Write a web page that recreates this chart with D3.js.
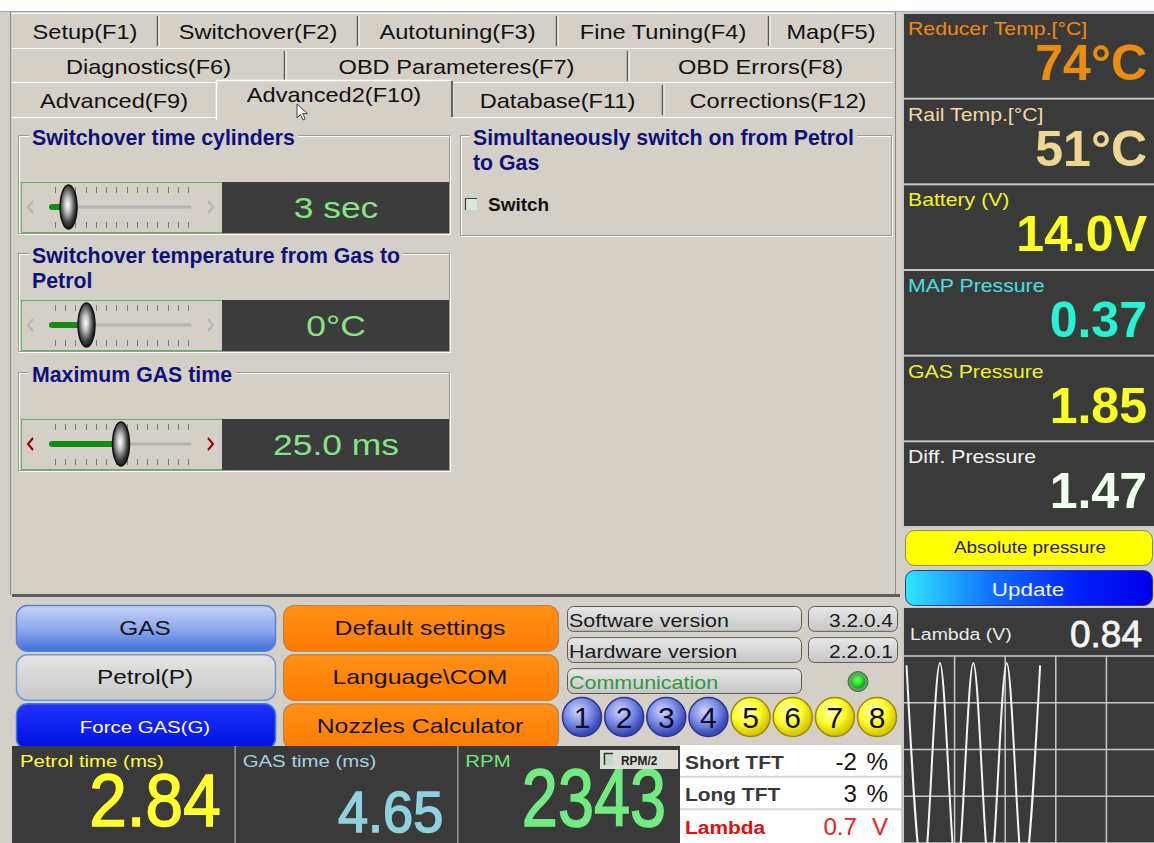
<!DOCTYPE html>
<html>
<head>
<meta charset="utf-8">
<script src="https://cdn.jsdelivr.net/npm/d3@7"></script>
<style>
  body { margin: 0; background: #d4d0c8; overflow: hidden; }
  svg { display: block; font-family: "Liberation Sans", Arial, sans-serif; }
</style>
</head>
<body>
<svg id="ui"></svg>
<script>
/*global d3*/

var tabRows = [
  ["Setup(F1)", "Switchover(F2)", "Autotuning(F3)", "Fine Tuning(F4)", "Map(F5)"],
  ["Diagnostics(F6)", "OBD Parameteres(F7)", "OBD Errors(F8)"],
  ["Advanced(F9)", "Advanced2(F10)", "Database(F11)", "Corrections(F12)"]
];
var activeTab = "Advanced2(F10)";

var sliderTitles = [["Switchover time cylinders"], ["Switchover temperature from Gas to", "Petrol"], ["Maximum GAS time"]];
var sliderValues = [3, 0, 25.0];
var sliderDomains = [[0, 25], [-20, 60], [0, 50]];
var sliderText = ["3 sec", "0°C", "25.0 ms"];

var switchTitle = ["Simultaneously switch on from Petrol", "to Gas"];
var switchLabel = "Switch";

var sensorNames = ["Reducer Temp.[°C]", "Rail Temp.[°C]", "Battery (V)", "MAP Pressure", "GAS Pressure", "Diff. Pressure"];
var sensorValues = ["74°C", "51°C", "14.0V", "0.37", "1.85", "1.47"];

var leftButtons = ["GAS", "Petrol(P)", "Force GAS(G)"];
var midButtons = ["Default settings", "Language\\COM", "Nozzles Calculator"];

var versionNames = ["Software version", "Hardware version", "Communication"];
var versionValues = ["3.2.0.4", "2.2.0.1", ""];

var cylinders = [1, 2, 3, 4, 5, 6, 7, 8];
var cylinderBank = ["A", "A", "A", "A", "B", "B", "B", "B"];

var readoutNames = ["Petrol time (ms)", "GAS time (ms)", "RPM"];
var readoutValues = ["2.84", "4.65", "2343"];

var tftNames = ["Short TFT", "Long TFT", "Lambda"];
var tftValues = ["-2", "3", "0.7"];
var tftUnits = ["%", "%", "V"];

var lambdaNow = "0.84";
var lambdaTime = [0.5, 3.8, 7.1, 10.4, 13.7, 17.0, 20.3, 23.6, 26.9];
var lambdaVolt = [0.96, 0.06, 0.97, 0.06, 0.97, 0.06, 0.97, 0.06, 0.96];

// ---- setup ----
var W = 1154, H = 843, SX = 1.18;
var svg = d3.select("#ui").attr("width", W).attr("height", H);
var defs = svg.append("defs");

function label(g, x, y, s, o) {
  o = o || {};
  var t = g.append("text")
    .attr("transform", "translate(" + x + "," + y + ") scale(" + (o.sx || 1) + ",1)")
    .attr("text-anchor", o.anchor || "start")
    .style("font-size", (o.size || 16) + "px")
    .style("font-weight", o.weight || "normal")
    .style("fill", o.fill || "#000")
    .text(s);
  if (o.family) t.style("font-family", o.family);
  return t;
}

function linGrad(id, stops, vertical) {
  var g = defs.append("linearGradient").attr("id", id)
    .attr("x1", 0).attr("y1", 0).attr("x2", vertical ? 0 : 1).attr("y2", vertical ? 1 : 0);
  stops.forEach(function(s) { g.append("stop").attr("offset", s[0]).attr("stop-color", s[1]); });
}
function radGrad(id, stops, cx, cy) {
  var g = defs.append("radialGradient").attr("id", id)
    .attr("cx", cx || "50%").attr("cy", cy || "50%").attr("r", "60%");
  stops.forEach(function(s) { g.append("stop").attr("offset", s[0]).attr("stop-color", s[1]); });
}
radGrad("thumb", [["0%", "#ffffff"], ["30%", "#c0c0c0"], ["70%", "#404040"], ["100%", "#080808"]], "45%", "45%");
linGrad("gasBtn", [["0%", "#c4d2f4"], ["55%", "#8aa6ec"], ["100%", "#3f6fd8"]], true);
linGrad("petrolBtn", [["0%", "#e4e4e4"], ["100%", "#c8c8c8"]], true);
linGrad("forceBtn", [["0%", "#2030ff"], ["100%", "#0010e0"]], true);
linGrad("orangeBtn", [["0%", "#ff9018"], ["100%", "#ff7c00"]], true);
linGrad("verBox", [["0%", "#e8e8e8"], ["100%", "#c6c6c6"]], true);
linGrad("updateBtn", [["0%", "#30e6ff"], ["35%", "#1070ff"], ["70%", "#0020f8"], ["100%", "#0000e8"]], false);
radGrad("ballA", [["0%", "#d0d8ff"], ["55%", "#7d8ee6"], ["100%", "#3a4ab8"]], "40%", "35%");
radGrad("ballB", [["0%", "#ffffc0"], ["55%", "#ffff30"], ["100%", "#d8c800"]], "40%", "35%");
radGrad("led", [["0%", "#80ff80"], ["60%", "#20e020"], ["100%", "#109010"]], "45%", "40%");

// ---- window background ----
svg.append("rect").attr("width", W).attr("height", H).attr("fill", "#d4d0c8");
svg.append("rect").attr("width", W).attr("height", 11).attr("fill", "#ffffff");
svg.append("line").attr("x1", 0).attr("x2", W).attr("y1", 11.5).attr("y2", 11.5).attr("stroke", "#9aa2c0");
svg.append("line").attr("x1", 10.5).attr("x2", 10.5).attr("y1", 12).attr("y2", 595).attr("stroke", "#8a8a8a");
svg.append("line").attr("x1", 895.5).attr("x2", 895.5).attr("y1", 12).attr("y2", 595).attr("stroke", "#8a8a8a");

// ---- tabs ----
var tabEdges = [[12, 158, 358, 557, 769, 893], [12, 285, 628, 893], [12, 216, 452, 663, 893]];
var rowTop = [13, 48, 82], rowH = 35;
var tabs = svg.append("g");
tabRows.forEach(function(row, r) {
  var edges = tabEdges[r];
  tabs.append("line").attr("x1", 12).attr("x2", 893).attr("y1", rowTop[r] + 0.5).attr("y2", rowTop[r] + 0.5)
    .attr("stroke", "#ffffff");
  row.forEach(function(name, i) {
    var x0 = edges[i], x1 = edges[i + 1];
    if (name === activeTab) return;
    if (i > 0) {
      tabs.append("line").attr("x1", x0 - 0.5).attr("x2", x0 - 0.5)
        .attr("y1", rowTop[r] + 3).attr("y2", rowTop[r] + rowH - 2).attr("stroke", "#5a5a5a").attr("stroke-width", 1.5);
      tabs.append("line").attr("x1", x0 + 1).attr("x2", x0 + 1)
        .attr("y1", rowTop[r] + 3).attr("y2", rowTop[r] + rowH - 2).attr("stroke", "#ffffff");
    }
    label(tabs, (x0 + x1) / 2, rowTop[r] + 26, name, {anchor: "middle", size: 20, sx: SX, fill: "#111"});
  });
});
// content border under last tab row
tabs.append("line").attr("x1", 12).attr("x2", 216).attr("y1", 117.5).attr("y2", 117.5).attr("stroke", "#ffffff");
tabs.append("line").attr("x1", 452).attr("x2", 893).attr("y1", 117.5).attr("y2", 117.5).attr("stroke", "#ffffff");
// active tab
var at = tabs.append("g");
at.append("rect").attr("x", 216).attr("y", 80).attr("width", 236).attr("height", 40).attr("fill", "#d4d0c8");
at.append("path").attr("d", "M216.5,120 V80.5 H451").attr("fill", "none").attr("stroke", "#ffffff").attr("stroke-width", 1.5);
at.append("line").attr("x1", 452).attr("x2", 452).attr("y1", 81).attr("y2", 117).attr("stroke", "#404040").attr("stroke-width", 1.5);
label(at, 334, 102, activeTab, {anchor: "middle", size: 20, sx: SX, fill: "#111"});
// mouse pointer
svg.append("path").attr("transform", "translate(297,104)")
  .attr("d", "M0,0 L0,14 L3.5,10.5 L6,16 L8.2,15 L5.8,9.6 L10.5,9.6 Z")
  .attr("fill", "#ffffff").attr("stroke", "#404040").attr("stroke-width", 1);

// ---- group boxes ----
function groupBox(g, x, y, w, h, lines, tx) {
  g.append("rect").attr("x", x + 1.5).attr("y", y + 1.5).attr("width", w).attr("height", h)
    .attr("fill", "none").attr("stroke", "#ffffff");
  g.append("rect").attr("x", x + 0.5).attr("y", y + 0.5).attr("width", w).attr("height", h)
    .attr("fill", "none").attr("stroke", "#9c9a94");
  var bg = g.append("rect").attr("fill", "#d4d0c8");
  var t = label(g, tx, y + 10, lines[0], {size: 21.3, weight: "bold", fill: "#10107a"});
  var len = t.node().getComputedTextLength();
  bg.attr("x", tx - 3).attr("y", y - 6).attr("width", len + 6).attr("height", 14);
  for (var k = 1; k < lines.length; k++) {
    label(g, tx, y + 10 + 24.5 * k, lines[k], {size: 21.3, weight: "bold", fill: "#10107a"});
  }
}

var frameTop = [135, 253, 372];
var sliders = svg.append("g");
var tickX = d3.scaleLinear().domain([0, 13]).range([55, 188]);
sliderTitles.forEach(function(lines, i) {
  var g = sliders.append("g");
  var top = frameTop[i], sTop = top + 47, mid = sTop + 25;
  groupBox(g, 18, top, 431, 98, lines, 32);
  var sx = d3.scaleLinear().domain(sliderDomains[i]).range([52, 190]);
  var tx = sx(sliderValues[i]);
  g.append("rect").attr("x", 21.5).attr("y", sTop + 0.5).attr("width", 201).attr("height", 50)
    .attr("fill", "#d4d0c8").attr("stroke", "#5fb35f");
  var arrowCol = i === 2 ? "#a00000" : "#b4b4b4";
  g.append("path").attr("d", "M33," + (mid - 6) + " L28," + mid + " L33," + (mid + 6))
    .attr("fill", "none").attr("stroke", arrowCol).attr("stroke-width", 2);
  g.append("path").attr("d", "M208," + (mid - 6) + " L213," + mid + " L208," + (mid + 6))
    .attr("fill", "none").attr("stroke", arrowCol).attr("stroke-width", 2);
  d3.range(14).forEach(function(k) {
    var x = Math.round(tickX(k)) + 0.5;
    g.append("line").attr("x1", x).attr("x2", x).attr("y1", sTop + 5).attr("y2", sTop + 11).attr("stroke", "#7a7a7a");
    g.append("line").attr("x1", x).attr("x2", x).attr("y1", sTop + 40).attr("y2", sTop + 46).attr("stroke", "#7a7a7a");
  });
  g.append("line").attr("x1", 52).attr("x2", 190).attr("y1", mid).attr("y2", mid)
    .attr("stroke", "#b2b2b2").attr("stroke-width", 3).attr("stroke-linecap", "round");
  g.append("line").attr("x1", 52).attr("x2", tx).attr("y1", mid).attr("y2", mid)
    .attr("stroke", "#168c16").attr("stroke-width", 6).attr("stroke-linecap", "round");
  g.append("ellipse").attr("cx", tx).attr("cy", mid).attr("rx", 8.5).attr("ry", 22)
    .attr("fill", "url(#thumb)").attr("stroke", "#111").attr("stroke-width", 1.4);
  g.append("rect").attr("x", 222).attr("y", sTop).attr("width", 227).attr("height", 51).attr("fill", "#3c3c3c");
  label(g, 336, sTop + 36, sliderText[i], {anchor: "middle", size: 30, sx: SX, fill: "#86e486"});
});

// switch group
var sw = svg.append("g");
groupBox(sw, 460, 135, 431, 100, switchTitle, 473);
sw.append("rect").attr("x", 465).attr("y", 198).attr("width", 12).attr("height", 12).attr("fill", "#d8e8d8");
sw.append("path").attr("d", "M465.5,210 V198.5 H477").attr("fill", "none").attr("stroke", "#404040").attr("stroke-width", 1.2);
label(sw, 488, 211, switchLabel, {size: 19, weight: "bold", fill: "#111"});

// ---- sensor column ----
var sensorColor = d3.scaleOrdinal().domain(sensorNames)
  .range(["#f28a10", "#f0d8a8", "#f4f424", "#46e0e0", "#f0f030", "#f4f4f4"]);
var valueColor = d3.scaleOrdinal().domain(sensorNames)
  .range(["#f08a10", "#f2d596", "#ffff24", "#26f2d8", "#ffff26", "#f2fff2"]);
var sensorY = d3.scaleBand().domain(sensorNames).range([13, 527]).paddingInner(0);
var sens = svg.append("g");
sens.append("rect").attr("x", 902).attr("y", 12).attr("width", 252).attr("height", 516).attr("fill", "#c8c8c8");
sensorNames.forEach(function(n, i) {
  var y = sensorY(n), h = sensorY.bandwidth();
  sens.append("rect").attr("x", 904).attr("y", y + 1).attr("width", 250).attr("height", h - 2).attr("fill", "#3a3a3a");
  label(sens, 908, y + 22, n, {size: 18, sx: SX, fill: sensorColor(n)});
  label(sens, 1147, y + 67, sensorValues[i], {anchor: "end", size: 50, weight: "bold", fill: valueColor(n)})
    .style("stroke", "#2d5a22").style("stroke-width", 1.2).style("paint-order", "stroke");
});
// buttons under sensors
sens.append("rect").attr("x", 905.5).attr("y", 530.5).attr("width", 247).attr("height", 35).attr("rx", 9)
  .attr("fill", "#ffff00").attr("stroke", "#8a8a70");
label(sens, 1030, 553, "Absolute pressure", {anchor: "middle", size: 16, sx: SX, fill: "#22226a"});
sens.append("rect").attr("x", 905.5).attr("y", 570.5).attr("width", 247).attr("height", 35).attr("rx", 9)
  .attr("fill", "url(#updateBtn)").attr("stroke", "#303890");
label(sens, 1028, 596, "Update", {anchor: "middle", size: 19, sx: SX, fill: "#f4f4ff"});

// ---- bottom control area ----
svg.append("rect").attr("x", 12).attr("y", 594).attr("width", 888).attr("height", 3).attr("fill", "#5c5c5c");

var bY = d3.scaleBand().domain(leftButtons).range([605, 749]).paddingInner(0.07);
var btn = svg.append("g");
var leftFill = ["url(#gasBtn)", "url(#petrolBtn)", "url(#forceBtn)"];
var leftStroke = ["#5c7fd0", "#6e98d8", "#3a7ae0"];
leftButtons.forEach(function(n, i) {
  var y = bY(n), h = bY.bandwidth();
  btn.append("rect").attr("x", 16.5).attr("y", y + 0.5).attr("width", 259).attr("height", h).attr("rx", 11)
    .attr("fill", leftFill[i]).attr("stroke", leftStroke[i]).attr("stroke-width", 1.5);
  label(btn, 145, y + h / 2 + 7, n, {anchor: "middle", size: i === 2 ? 17 : 20, sx: i === 2 ? 1.2 : 1.22,
    fill: i === 2 ? "#ffffff" : "#141414"});
});
midButtons.forEach(function(n, i) {
  var y = bY(leftButtons[i]), h = bY.bandwidth();
  btn.append("rect").attr("x", 283.5).attr("y", y + 0.5).attr("width", 275).attr("height", h).attr("rx", 11)
    .attr("fill", "url(#orangeBtn)").attr("stroke", "#b8864a").attr("stroke-width", 1.2);
  label(btn, 420, y + h / 2 + 7, n, {anchor: "middle", size: 20, sx: 1.24, fill: "#141414"});
});

// versions
var vY = d3.scaleBand().domain(versionNames).range([606, 693]).paddingInner(0.2);
var ver = svg.append("g");
versionNames.forEach(function(n, i) {
  var y = vY(n), h = vY.bandwidth();
  ver.append("rect").attr("x", 567.5).attr("y", y + 0.5).attr("width", 234).attr("height", h).attr("rx", 6)
    .attr("fill", "url(#verBox)").attr("stroke", "#5a5a5a");
  label(ver, 569, y + h - 4, n, {size: 19, sx: 1.13, fill: i === 2 ? "#2e9a3a" : "#1a1a1a"});
  if (versionValues[i]) {
    ver.append("rect").attr("x", 808.5).attr("y", y + 0.5).attr("width", 89).attr("height", h).attr("rx", 6)
      .attr("fill", "url(#verBox)").attr("stroke", "#5a5a5a");
    label(ver, 893, y + h - 4, versionValues[i], {anchor: "end", size: 19, sx: 1.1, fill: "#1a1a1a"});
  } else {
    ver.append("circle").attr("cx", 858).attr("cy", y + h / 2 + 1).attr("r", 10)
      .attr("fill", "#6a9a6a").attr("stroke", "#3a6a3a");
    ver.append("circle").attr("cx", 858).attr("cy", y + h / 2 + 1).attr("r", 7).attr("fill", "url(#led)");
  }
});

// cylinders
var cX = d3.scalePoint().domain(cylinders).range([582, 877]);
var cyl = svg.append("g");
cylinders.forEach(function(c, i) {
  var a = cylinderBank[i] === "A";
  cyl.append("circle").attr("cx", cX(c)).attr("cy", 717).attr("r", 19.5)
    .attr("fill", a ? "url(#ballA)" : "url(#ballB)").attr("stroke", a ? "#2c3488" : "#a08800").attr("stroke-width", 1.5);
  label(cyl, cX(c), 728, String(c), {anchor: "middle", size: 30, fill: a ? "#0c0c30" : "#101010"});
});

// readouts
var rX = d3.scaleBand().domain(readoutNames).range([12, 680]);
var rd = svg.append("g");
rd.append("rect").attr("x", 12).attr("y", 746).attr("width", 668).attr("height", 97).attr("fill", "#3a3a3a");
var rLabelCol = ["#ffff3a", "#a6d2e0", "#72e87a"];
var rValCol = ["#ffff2e", "#8ed2de", "#72ec82"];
var rSize = [75, 57, 81], rSx = [0.9, 0.95, 0.8], rBase = [826, 832, 826];
readoutNames.forEach(function(n, i) {
  var x = rX(n), w = rX.bandwidth();
  if (i > 0) rd.append("line").attr("x1", x + 0.5).attr("x2", x + 0.5).attr("y1", 746).attr("y2", 843)
    .attr("stroke", "#9a9a9a").attr("stroke-width", 1.5);
  label(rd, x + 8, 767, n, {size: 17, sx: 1.2, fill: rLabelCol[i]});
  label(rd, x + w - 14, rBase[i], readoutValues[i], {anchor: "end", size: rSize[i], sx: rSx[i], fill: rValCol[i]})
    .style("stroke", rValCol[i]).style("stroke-width", 1.6);
});
// RPM/2 check
rd.append("rect").attr("x", 600).attr("y", 750).attr("width", 78).attr("height", 19).attr("fill", "#dcdcd6");
rd.append("rect").attr("x", 604).attr("y", 753).attr("width", 9).attr("height", 12).attr("fill", "#c6dcc6");
rd.append("path").attr("d", "M604.5,765 V753.5 H613").attr("fill", "none").attr("stroke", "#303030").attr("stroke-width", 1.5);
label(rd, 621, 765, "RPM/2", {size: 12.5, weight: "bold", sx: 0.95, fill: "#202020"});

// TFT table
var tY = d3.scaleBand().domain(tftNames).range([745, 843]);
var tft = svg.append("g");
tft.append("rect").attr("x", 680).attr("y", 745).attr("width", 221).attr("height", 98).attr("fill", "#ffffff");
tftNames.forEach(function(n, i) {
  var y = tY(n), h = tY.bandwidth();
  var red = n === "Lambda";
  if (i > 0) tft.append("line").attr("x1", 680).attr("x2", 901).attr("y1", y - 1).attr("y2", y - 1)
    .attr("stroke", "#d8d8d8").attr("stroke-width", 2);
  label(tft, 685, y + h - 9, n, {size: 19, weight: "bold", sx: 1.1, fill: red ? "#e01010" : "#383838"});
  label(tft, 857, y + h - 8, tftValues[i], {anchor: "end", size: 23, sx: 1.05, fill: red ? "#ee1c1c" : "#141414"});
  label(tft, 888, y + h - 8, tftUnits[i], {anchor: "end", size: 23, sx: 1.05, fill: red ? "#ee1c1c" : "#141414"});
});

// ---- lambda chart ----
var lx = d3.scaleLinear().domain([0, 50]).range([904, 1157]);
var ly = d3.scaleLinear().domain([0.2, 1.0]).range([843, 656]);
var lam = svg.append("g");
lam.append("rect").attr("x", 902).attr("y", 607).attr("width", 252).attr("height", 236).attr("fill", "#c8c8c8");
lam.append("rect").attr("x", 904).attr("y", 608).attr("width", 250).attr("height", 235).attr("fill", "#3a3a3a");
label(lam, 910, 640, "Lambda (V)", {size: 16.5, sx: 1.18, fill: "#ececec"});
label(lam, 1142, 647, lambdaNow, {anchor: "end", size: 37, fill: "#f4f4f4"})
  .style("stroke", "#f4f4f4").style("stroke-width", 0.8);
ly.ticks(4).forEach(function(v) {
  lam.append("line").attr("x1", 904).attr("x2", W).attr("y1", ly(v)).attr("y2", ly(v))
    .attr("stroke", "#c8c8c8").attr("stroke-width", 1.5);
});
lx.ticks(5).forEach(function(v) {
  if (v === 0) return;
  lam.append("line").attr("x1", lx(v)).attr("x2", lx(v)).attr("y1", ly(1.0)).attr("y2", H)
    .attr("stroke", "#c8c8c8").attr("stroke-width", 1.5);
});
defs.append("clipPath").attr("id", "lamClip").append("rect")
  .attr("x", 904).attr("y", 657).attr("width", 250).attr("height", 186);
var lamLine = d3.line()
  .x(function(d, i) { return lx(lambdaTime[i]); })
  .y(function(d) { return ly(d); })
  .curve(d3.curveMonotoneX);
lam.append("path").datum(lambdaVolt).attr("clip-path", "url(#lamClip)")
  .attr("d", lamLine).attr("fill", "none").attr("stroke", "#f4f4f4").attr("stroke-width", 2);
</script>
</body>
</html>
